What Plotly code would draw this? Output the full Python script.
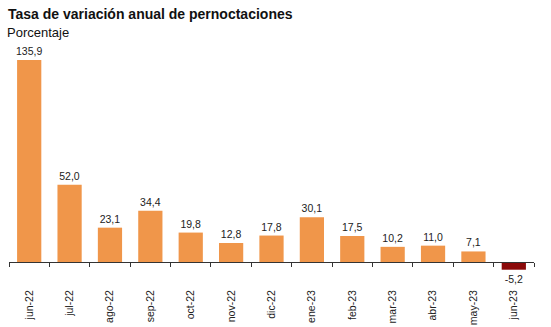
import plotly.graph_objects as go

categories = ["jun-22", "jul-22", "ago-22", "sep-22", "oct-22", "nov-22", "dic-22",
              "ene-23", "feb-23", "mar-23", "abr-23", "may-23", "jun-23"]
values = [135.9, 52.0, 23.1, 34.4, 19.8, 12.8, 17.8, 30.1, 17.5, 10.2, 11.0, 7.1, -5.2]

colors = ["#F0964A" if v >= 0 else "#8B0A0A" for v in values]

ymin, ymax = -8.75, 146.0
pos = (0 - ymin) / (ymax - ymin)

fig = go.Figure(go.Bar(
    x=categories, y=values,
    marker=dict(color=colors, line=dict(width=0)),
    texttemplate="%{y:.1f}", textposition="outside",
    textfont=dict(family="Liberation Sans, Arial", size=10.5, color="#222222"),
    constraintext="none",
    cliponaxis=False,
))

fig.update_layout(
    width=551, height=327,
    margin=dict(l=9, r=17, t=45, b=52, autoexpand=False),
    paper_bgcolor="white", plot_bgcolor="white",
    separators=",.",
    bargap=0.4,
    showlegend=False,
    font=dict(family="Liberation Sans, Arial", color="#222222"),
    title=dict(text="<b>Tasa de variación anual de pernoctaciones</b>",
               x=8/551, xref="container", xanchor="left",
               y=1 - 9/327, yref="container", yanchor="top",
               font=dict(size=14, color="#111111")),
    annotations=[dict(text="Porcentaje", xref="paper", yref="paper",
                      x=-4/525, y=(275 - 23) / 230, xanchor="left", yanchor="top",
                      showarrow=False, font=dict(size=13, color="#111111"))],
    xaxis=dict(
        anchor="free", position=pos, automargin=False,
        showline=True, linecolor="#333333", linewidth=1,
        ticks="outside", tickson="boundaries", ticklen=4, tickcolor="#333333",
        tickangle=-90, ticklabelstandoff=23,
        tickfont=dict(size=10.5, color="#222222"),
        showgrid=False, zeroline=False,
    ),
    yaxis=dict(range=[ymin, ymax], showticklabels=False, showgrid=False,
               zeroline=False, ticks="", showline=False, automargin=False),
)

fig.write_html("out.html")
